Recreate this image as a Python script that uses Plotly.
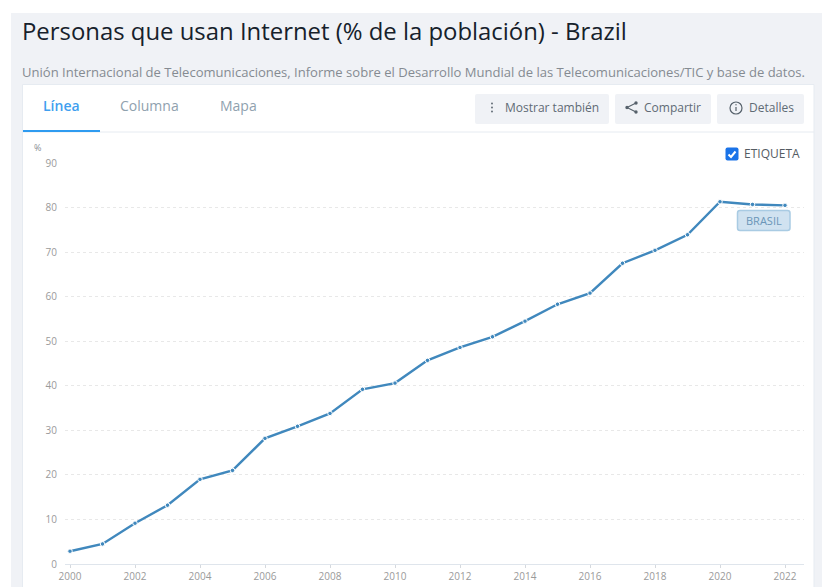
import plotly.graph_objects as go

years = list(range(2000, 2023))
values = [2.87, 4.5, 9.15, 13.2, 19.0, 21.0, 28.2, 30.9, 33.8, 39.2, 40.6, 45.7,
          48.6, 51.0, 54.5, 58.3, 60.8, 67.5, 70.4, 73.9, 81.3, 80.7, 80.5]
y_ticks = list(range(0, 100, 10))
x_ticks = list(range(2000, 2024, 2))
title_text = "Personas que usan Internet (% de la población) - Brazil"
source_text = "Unión Internacional de Telecomunicaciones, Informe sobre el Desarrollo Mundial de las Telecomunicaciones/TIC y base de datos."
series_label = "BRASIL"

W, H = 822, 587
FONT = "Open Sans"
L, R, T, B = 65, 804, 163, 564
px_per_year = (785 - 70) / 22


def X(p):
    return p / W


def Y(p):
    return 1 - p / H


def rect(x0, y0, x1, y1, fill, line=None, layer="below", width=1):
    return dict(type="rect", xref="paper", yref="paper", x0=X(x0), x1=X(x1), y0=Y(y1), y1=Y(y0),
                fillcolor=fill, line=dict(color=line or fill, width=width if line else 0), layer=layer)


def rrect(x0, y0, x1, y1, r, fill, line=None, layer="above", width=1):
    p = (f"M {X(x0 + r)} {Y(y0)} L {X(x1 - r)} {Y(y0)} Q {X(x1)} {Y(y0)} {X(x1)} {Y(y0 + r)} "
         f"L {X(x1)} {Y(y1 - r)} Q {X(x1)} {Y(y1)} {X(x1 - r)} {Y(y1)} "
         f"L {X(x0 + r)} {Y(y1)} Q {X(x0)} {Y(y1)} {X(x0)} {Y(y1 - r)} "
         f"L {X(x0)} {Y(y0 + r)} Q {X(x0)} {Y(y0)} {X(x0 + r)} {Y(y0)} Z")
    return dict(type="path", xref="paper", yref="paper", path=p, fillcolor=fill,
                line=dict(color=line or fill, width=width if line else 0), layer=layer)


def seg(x0, y0, x1, y1, color, width=1, layer="above"):
    return dict(type="line", xref="paper", yref="paper", x0=X(x0), x1=X(x1), y0=Y(y0), y1=Y(y1),
                line=dict(color=color, width=width), layer=layer)


def circ(cx, cy, r, fill, line=None, width=1):
    return dict(type="circle", xref="paper", yref="paper", x0=X(cx - r), x1=X(cx + r), y0=Y(cy + r), y1=Y(cy - r),
                fillcolor=fill, line=dict(color=line or fill, width=width), layer="above")


def text(x, y, s, size, color, anchor="left", weight=None):
    return dict(xref="paper", yref="paper", x=X(x), y=Y(y), text=s, showarrow=False, xanchor=anchor, yanchor="middle",
                align=anchor, borderpad=0, borderwidth=0,
                font=dict(family=FONT, size=size, color=color, weight=weight or 400))


shapes = [
    rect(11, 13, 822, 587, "#f0f2f6"),
    rect(22.5, 84.5, 814, 600, "#ffffff", "#e6ebf1"),
    seg(23, 132, 814, 132, "#e6ebf1", 1, "below"),
    seg(23, 131, 100, 131, "#2f9bf0", 2, "below"),
    rrect(475, 94, 609, 124, 2, "#f0f2f6", layer="below"),
    rrect(615, 94, 711, 124, 2, "#f0f2f6", layer="below"),
    rrect(717, 94, 804, 124, 2, "#f0f2f6", layer="below"),
    circ(492, 103.5, 0.9, "#56616b", width=0),
    circ(492, 107.5, 0.9, "#56616b", width=0),
    circ(492, 111.5, 0.9, "#56616b", width=0),
    seg(627, 107.5, 636, 103, "#56616b", 1.2),
    seg(627, 107.5, 636, 112, "#56616b", 1.2),
    circ(627, 107.5, 1.7, "#56616b", width=0),
    circ(636, 103, 1.7, "#56616b", width=0),
    circ(636, 112, 1.7, "#56616b", width=0),
    circ(736, 108, 6, "rgba(0,0,0,0)", "#56616b", 1.2),
    seg(736, 107, 736, 111, "#56616b", 1.2),
    circ(736, 104.8, 0.7, "#56616b", width=0),
    rrect(725.5, 147.5, 738.5, 160.5, 2, "#1a73e8"),
    dict(type="path", xref="paper", yref="paper", layer="above",
         path=f"M {X(728.5)} {Y(154.5)} L {X(731)} {Y(157)} L {X(735.5)} {Y(151.5)}",
         line=dict(color="#ffffff", width=2)),
    rrect(737.5, 210.5, 790, 230.5, 2.5, "#d0e2f0", "#a9cbe3", width=1.5),
]

annotations = [
    text(22, 30.5, title_text, 23.9, "#16212b", weight=500),
    text(22, 71.5, source_text, 13.05, "#858b92"),
    text(43, 105.5, "Línea", 14, "#3f9fef", weight=600),
    text(120, 105.5, "Columna", 14, "#8fa1ae"),
    text(220, 105.5, "Mapa", 14, "#8fa1ae"),
    text(504.5, 107.5, "Mostrar también", 12, "#5f6b75"),
    text(644, 107.5, "Compartir", 12, "#5f6b75"),
    text(749, 107.5, "Detalles", 12, "#5f6b75"),
    text(744, 153.5, "ETIQUETA", 12, "#555c63"),
    text(34, 147.5, "%", 9, "#888f96"),
    text(763.5, 220.5, series_label, 11, "#6b96b8", "center"),
]

fig = go.Figure()
fig.add_trace(go.Scatter(
    x=years, y=values, mode="lines+markers",
    line=dict(color="#4088bd", width=2.4),
    marker=dict(color="#4088bd", size=4.5, line=dict(color="#ffffff", width=1)),
    hoverinfo="skip", showlegend=False, cliponaxis=False,
))

fig.update_layout(
    width=W, height=H, autosize=False,
    margin=dict(l=0, r=0, t=0, b=0, pad=0),
    paper_bgcolor="#ffffff", plot_bgcolor="rgba(0,0,0,0)",
    font=dict(family=FONT),
    shapes=shapes, annotations=annotations, showlegend=False,
    xaxis=dict(
        domain=[L / W, R / W], anchor="y",
        range=[2000 - (70 - L) / px_per_year, 2022 + (R - 785) / px_per_year],
        tickmode="array", tickvals=x_ticks, ticktext=[str(t) for t in x_ticks],
        showgrid=False, zeroline=False, showline=True, linecolor="#dfe5ec", linewidth=1,
        ticks="outside", ticklen=3, tickcolor="#d5d9de", tickwidth=1, automargin=False,
        tickfont=dict(family=FONT, size=10, color="#9a9a9a"),
    ),
    yaxis=dict(
        domain=[1 - B / H, 1 - T / H], anchor="x",
        range=[0, 90], tickmode="array", tickvals=y_ticks, ticktext=[str(t) for t in y_ticks],
        showgrid=True, gridcolor="#e8e8e8", griddash="3px,3px", gridwidth=1, automargin=False,
        zeroline=False, showline=False, ticks="", ticklabelstandoff=7,
        tickfont=dict(family=FONT, size=10, color="#9a9a9a"),
    ),
)

fig.write_html("out.html", config={"displayModeBar": False, "staticPlot": True},
               post_script="document.body.style.margin='0';document.body.style.overflow='hidden';")
